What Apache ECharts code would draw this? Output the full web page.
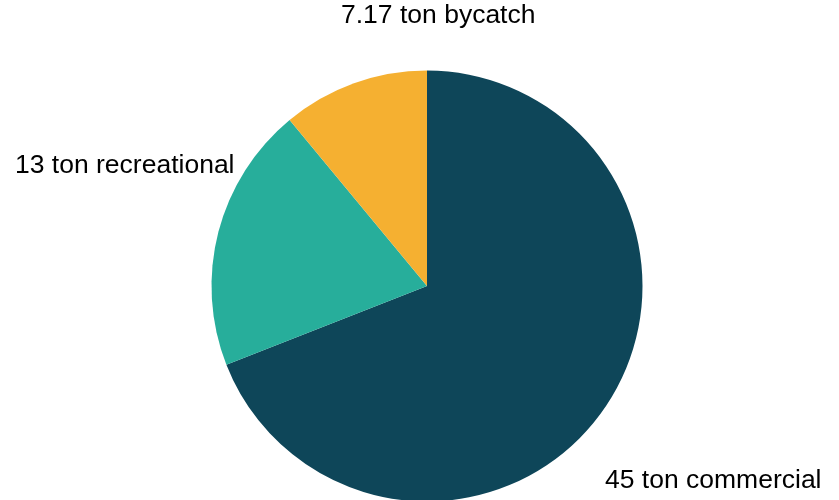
<!DOCTYPE html>
<html>
<head>
<meta charset="utf-8">
<script src="https://cdn.jsdelivr.net/npm/echarts@6/dist/echarts.min.js"></script>
<style>html,body{margin:0;padding:0;background:#fff}#c{width:839px;height:500px}</style>
</head>
<body>
<div id="c"></div>
<script>
const categories = ['commercial', 'recreational', 'bycatch'];
const values = [45, 13, 7.17];
const colors = ['#0e4659', '#27ae9b', '#f5b031'];
const labelTexts = ['45 ton commercial', '13 ton recreational', '7.17 ton bycatch'];

const labelSpots = [
  {x: 605, y: 481, align: 'left'},
  {x: 15, y: 166, align: 'left'},
  {x: 341, y: 16, align: 'left'}
];

const chart = echarts.init(document.getElementById('c'), null, {renderer: 'canvas'});
chart.setOption({
  animation: false,
  series: [{
    type: 'pie',
    center: [427, 286],
    radius: [0, 215.5],
    startAngle: 90,
    clockwise: true,
    avoidLabelOverlap: false,
    data: categories.map((c, i) => ({
      name: c,
      value: values[i],
      itemStyle: {color: colors[i]},
      label: {formatter: labelTexts[i]}
    })),
    label: {
      show: true,
      position: 'outside',
      color: '#000',
      fontFamily: 'Liberation Sans, Arial, sans-serif',
      fontSize: 26.5
    },
    labelLine: {show: false},
    labelLayout: function (p) {
      const s = labelSpots[p.dataIndex];
      return {x: s.x, y: s.y, align: s.align, verticalAlign: 'middle'};
    },
    emphasis: {disabled: true}
  }]
});
</script>
</body>
</html>
